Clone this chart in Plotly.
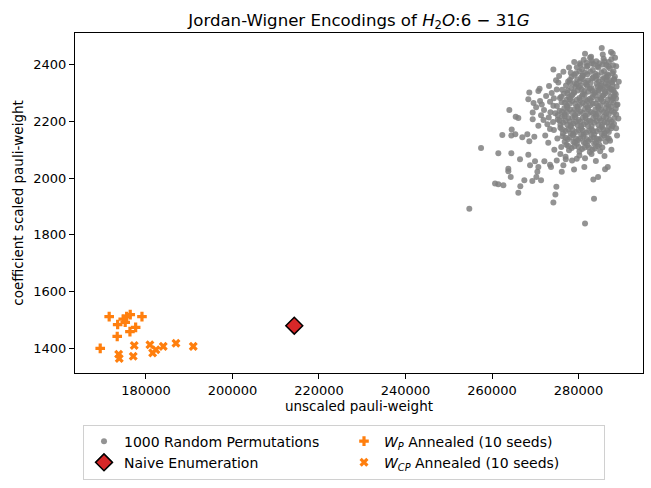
import plotly.graph_objects as go

# ---------------- data ----------------
# 1000 random permutations: representative points (x in thousands of pauli-weight)
outer_x_k = [
    254.75, 281.5, 283.58, 257.46, 261.46, 264.46, 262.38, 260.7, 261.46, 262.62,
    263.77, 263.77, 264.32, 266.08, 266.54, 267.47, 269.32, 271.33, 270.25, 270.48,
    274.87, 274.64, 274.18, 266.47, 268.39, 264.46, 265.39, 267.0, 268.16, 268.62,
    269.78, 268.79, 269.94, 270.71, 272.1, 273.41, 273.64, 274.96, 276.12, 276.49,
    277.05, 278.96, 279.59, 281.34, 283.42, 284.51, 274.18, 268.62, 270.71, 268.39,
    273.18, 275.33, 264.0, 265.47, 266.08, 264.55, 269.4, 269.4, 271.1, 271.5,
    272.02, 271.33, 273.41, 274.18, 273.11, 270.71, 273.41, 274.96, 285.36, 281.5,
    287.51, 282.66, 285.6, 288.44, 287.67, 288.67, 288.67, 287.28, 286.75, 286.13,
    272.5, 273.8, 271.9, 272.8, 273.5, 274.3, 274.8, 275.5, 276.5, 277.8,
    279.0, 280.3, 278.2, 270.2, 269.6, 271.0, 272.3, 273.0, 274.4, 275.8,
    277.0, 278.5, 280.2, 281.5, 283.0, 284.0, 286.0, 287.6, 288.9, 289.2,
    289.0, 289.3, 288.7, 287.9,
]
outer_y = [
    1892, 1840, 1927, 2106, 2088, 2088, 2152, 1981, 1978, 1975,
    2033, 2024, 2004, 1948, 1971, 1992, 1990, 1992, 2004, 2022,
    1969, 1942, 1914, 2066, 2082, 2150, 2155, 2144, 2155, 2130,
    2146, 2045, 2059, 2039, 2059, 2047, 2039, 2062, 2022, 2045,
    2066, 2030, 2068, 2039, 1995, 2004, 2383, 2302, 2307, 2278,
    2325, 2337, 2240, 2216, 2212, 2171, 2231, 2208, 2272, 2260,
    2240, 2222, 2269, 2255, 2214, 2185, 2173, 2313, 2459, 2439,
    2445, 2425, 2436, 2425, 2313, 2281, 2176, 2132, 2039, 2031,
    2290, 2300, 2205, 2190, 2232, 2282, 2345, 2360, 2375, 2390,
    2410, 2405, 2372, 2250, 2265, 2315, 2150, 2125, 2100, 2085,
    2075, 2062, 2080, 2070, 2085, 2060, 2078, 2100, 2150, 2210,
    2260, 2340, 2395, 2440,
]

core_x_k = [
    281.2, 282.9, 284.1, 285.8, 287.0, 283.5, 286.4,
    279.6, 280.8, 282.1, 283.3, 284.6, 285.9, 287.2, 288.1, 281.5, 283.9, 286.6,
    278.4, 279.7, 280.9, 282.2, 283.4, 284.7, 285.9, 287.1, 288.4, 277.6, 281.6, 286.3,
    277.1, 278.3, 279.5, 280.7, 282.0, 283.2, 284.4, 285.6, 286.8, 288.0, 288.8, 276.2,
    276.6, 277.8, 279.0, 280.2, 281.4, 282.6, 283.8, 285.0, 286.2, 287.4, 288.6, 275.7, 284.6,
    276.1, 277.3, 278.5, 279.7, 280.9, 282.1, 283.3, 284.5, 285.7, 286.9, 288.1, 275.0, 281.7,
    275.6, 276.8, 278.0, 279.2, 280.4, 281.6, 282.8, 284.0, 285.2, 286.4, 287.6, 288.7, 274.6,
    275.2, 276.4, 277.6, 278.8, 280.0, 281.2, 282.4, 283.6, 284.8, 286.0, 287.2, 288.2, 274.1,
    275.8, 277.0, 278.2, 279.4, 280.6, 281.8, 283.0, 284.2, 285.4, 286.6, 287.6, 274.3,
    276.3, 277.5, 278.7, 279.9, 281.1, 282.3, 283.5, 284.7, 285.9, 287.0, 275.1,
    277.2, 278.4, 279.6, 280.8, 282.0, 283.2, 284.4, 285.5, 276.0,
]
core_y = [
    2418, 2428, 2412, 2421, 2410, 2402, 2399,
    2391, 2384, 2396, 2381, 2390, 2378, 2388, 2376, 2372, 2368, 2366,
    2358, 2349, 2362, 2344, 2356, 2341, 2353, 2345, 2358, 2341, 2336, 2334,
    2327, 2318, 2331, 2313, 2325, 2309, 2322, 2314, 2328, 2311, 2323, 2312,
    2298, 2286, 2301, 2283, 2295, 2280, 2292, 2284, 2299, 2287, 2296, 2283, 2304,
    2268, 2256, 2272, 2253, 2265, 2250, 2262, 2254, 2270, 2258, 2266, 2254, 2276,
    2238, 2226, 2242, 2223, 2236, 2220, 2233, 2225, 2241, 2228, 2237, 2224, 2229,
    2207, 2196, 2212, 2193, 2205, 2190, 2203, 2195, 2210, 2198, 2206, 2192, 2198,
    2178, 2166, 2181, 2163, 2175, 2160, 2172, 2165, 2180, 2168, 2176, 2170,
    2148, 2137, 2152, 2134, 2146, 2131, 2143, 2136, 2150, 2140, 2140,
    2118, 2106, 2121, 2103, 2115, 2101, 2112, 2108, 2110,
]

core2_x_k = [
    281.8, 283.0, 284.8, 286.0, 287.6,
    280.2, 281.0, 282.7, 284.0, 285.3, 286.5, 287.8, 279.0,
    278.0, 279.1, 280.3, 281.0, 282.8, 284.1, 285.3, 286.5, 287.7, 288.2,
    277.5, 278.9, 280.1, 281.3, 282.6, 283.8, 285.0, 286.1, 287.3, 288.3,
    277.2, 278.4, 279.6, 280.8, 282.0, 283.2, 284.4, 285.6, 286.8, 288.0, 276.0,
    276.7, 277.9, 279.1, 280.3, 281.5, 282.7, 283.9, 285.1, 286.3, 287.5, 288.6,
    276.2, 277.4, 278.6, 279.8, 281.0, 282.2, 283.4, 284.6, 285.8, 287.0, 288.3, 275.2,
    275.8, 277.0, 278.2, 279.4, 280.6, 281.8, 283.0, 284.2, 285.4, 286.6, 287.8,
    276.4, 277.6, 278.8, 280.0, 281.2, 282.4, 283.6, 284.8, 286.0, 287.0,
    276.8, 278.0, 279.2, 280.4, 281.6, 282.8, 284.0, 285.2, 286.3,
    277.8, 279.0, 280.2, 281.4, 282.6, 283.8, 285.0,
]
core2_y = [
    2407, 2414, 2405, 2412, 2419,
    2377, 2362, 2375, 2360, 2373, 2358, 2370, 2365,
    2346, 2335, 2342, 2350, 2337, 2350, 2332, 2346, 2338, 2350,
    2309, 2304, 2321, 2307, 2316, 2303, 2318, 2306, 2316, 2302,
    2276, 2291, 2276, 2290, 2272, 2285, 2276, 2290, 2277, 2283, 2287,
    2246, 2262, 2243, 2258, 2244, 2257, 2242, 2258, 2246, 2253, 2245,
    2216, 2232, 2213, 2228, 2213, 2226, 2212, 2228, 2216, 2225, 2212, 2222,
    2188, 2202, 2186, 2199, 2184, 2197, 2183, 2201, 2187, 2195, 2184,
    2158, 2172, 2156, 2170, 2155, 2167, 2154, 2172, 2158, 2163,
    2128, 2143, 2126, 2140, 2124, 2137, 2125, 2140, 2128,
    2098, 2112, 2094, 2108, 2092, 2104, 2095,
]

core3_x_k = [
    280.5, 281.9, 283.1, 284.4, 285.6, 286.9, 288.0,
    279.4, 280.6, 282.0, 283.2, 284.4, 285.5, 286.9, 288.2,
    278.0, 279.3, 280.5, 281.8, 283.0, 284.2, 285.4, 286.6, 287.8,
    277.4, 278.6, 279.8, 281.0, 282.2, 283.4, 284.6, 285.8, 287.0, 288.2,
    276.8, 278.0, 279.2, 280.4, 281.6, 282.8, 284.0, 285.2, 286.4, 287.6, 288.8,
    276.2, 277.4, 278.6, 279.8, 281.0, 282.2, 283.4, 284.6, 285.8, 287.0, 288.2,
    275.6, 276.8, 278.0, 279.2, 280.4, 281.6, 282.8, 284.0, 285.2, 286.4, 287.6,
    276.2, 277.4, 278.6, 279.8, 281.0, 282.2, 283.4, 284.6, 285.8, 287.0,
    277.0, 278.2, 279.4, 280.6, 281.8, 283.0, 284.2, 285.4, 286.6,
    277.6, 278.8, 280.0, 281.2, 282.4, 283.6, 284.8,
]
core3_y = [
    2400, 2393, 2405, 2395, 2401, 2394, 2398,
    2370, 2354, 2366, 2352, 2363, 2349, 2363, 2347,
    2336, 2322, 2327, 2330, 2318, 2333, 2325, 2321, 2330,
    2300, 2294, 2309, 2296, 2305, 2297, 2311, 2293, 2305, 2290,
    2266, 2279, 2262, 2274, 2259, 2275, 2263, 2278, 2262, 2274, 2258,
    2234, 2249, 2231, 2245, 2230, 2243, 2229, 2246, 2233, 2244, 2232,
    2203, 2218, 2200, 2215, 2199, 2212, 2200, 2217, 2203, 2213, 2199,
    2172, 2188, 2170, 2186, 2168, 2184, 2166, 2187, 2171, 2183,
    2142, 2158, 2140, 2155, 2138, 2153, 2139, 2156, 2142,
    2113, 2128, 2110, 2126, 2108, 2122, 2118,
]

naive_x = [214290]
naive_y = [1479]

wp_x = [171500, 173460, 174750, 175540, 176370, 175210, 179080, 173360, 176300, 177620, 169430]
wp_y = [1511, 1483, 1502, 1511, 1518, 1491, 1511, 1441, 1458, 1473, 1399]

wcp_x = [173690, 173830, 177060, 177290, 180920, 181550, 182310, 184000, 186940, 190940]
wcp_y = [1378, 1363, 1371, 1409, 1412, 1383, 1394, 1406, 1417, 1406]

x_ticks = [180000, 200000, 220000, 240000, 260000, 280000]
y_ticks = [1400, 1600, 1800, 2000, 2200, 2400]

FONT = "DejaVu Sans"

rand_x = [v * 1000 for v in outer_x_k + core_x_k + core2_x_k + core3_x_k]
rand_y = outer_y + core_y + core2_y + core3_y

fig = go.Figure()
# order chosen so a 2-per-row legend reads like the 2-column legend of the reference
fig.add_trace(go.Scatter(
    x=rand_x, y=rand_y, mode="markers", name="1000 Random Permutations",
    marker=dict(size=6, color="rgba(128,128,128,0.85)", line=dict(width=0)),
))
fig.add_trace(go.Scatter(
    x=wp_x, y=wp_y, mode="markers", name="<i>W</i><sub><i>P</i></sub> Annealed (10 seeds)",
    marker=dict(size=8, symbol="cross", color="#ff7f0e", line=dict(width=0)),
))
fig.add_trace(go.Scatter(
    x=naive_x, y=naive_y, mode="markers", name="Naive Enumeration",
    marker=dict(size=13, symbol="diamond", color="#d62728", line=dict(width=1.5, color="black")),
))
fig.add_trace(go.Scatter(
    x=wcp_x, y=wcp_y, mode="markers", name="<i>W</i><sub><i>CP</i></sub> Annealed (10 seeds)",
    marker=dict(size=8, symbol="x", color="#ff7f0e", line=dict(width=0)),
))

axis_common = dict(
    showgrid=False, zeroline=False, showline=True, linecolor="black", linewidth=1,
    mirror=True, ticks="outside", ticklen=5, tickwidth=1, tickcolor="black",
    tickfont=dict(family=FONT, size=13, color="black"),
)

fig.update_layout(
    width=651, height=488,
    margin=dict(l=75, r=8, t=33, b=112),
    paper_bgcolor="white", plot_bgcolor="white",
    font=dict(family=FONT, size=13, color="black"),
    title=dict(
        text="Jordan-Wigner Encodings of <i>H</i><sub>2</sub><i>O</i>:6 − 31<i>G</i>",
        x=0.5, xref="paper", y=1 - 20 / 488, yref="container", yanchor="middle",
        font=dict(family=FONT, size=16.6, color="black"),
    ),
    xaxis=dict(
        range=[163600, 294900], tickvals=x_ticks, tickformat="d",
        title=dict(text="unscaled pauli-weight", font=dict(family=FONT, size=13.5), standoff=4),
        **axis_common,
    ),
    yaxis=dict(
        range=[1312, 2512], tickvals=y_ticks, tickformat="d",
        title=dict(text="coefficient scaled pauli-weight", font=dict(family=FONT, size=13.5), standoff=6),
        **axis_common,
    ),
    legend=dict(
        orientation="h", x=(83 - 75) / 568, xanchor="left", y=(376 - 428) / 343, yanchor="top",
        bordercolor="#d0d0d0", borderwidth=1, bgcolor="white",
        entrywidth=215, font=dict(family=FONT, size=14), tracegroupgap=0,
    ),
    showlegend=True,
)

fig.write_html("out.html")
